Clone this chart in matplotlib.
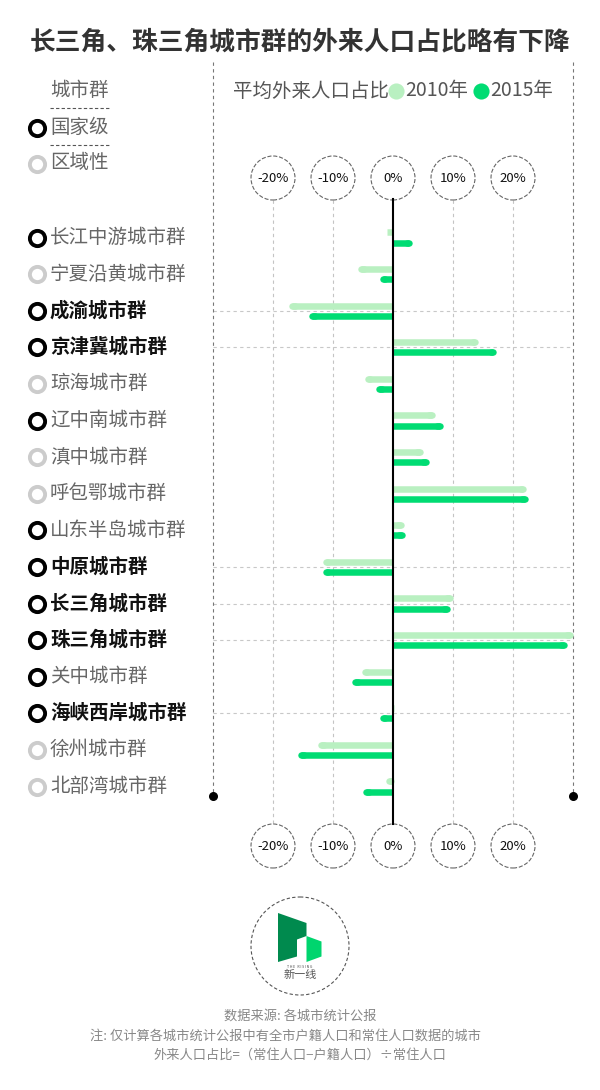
import matplotlib
matplotlib.use('Agg')
import matplotlib.pyplot as plt
import matplotlib.transforms as mtransforms
from matplotlib.patches import Circle, Polygon
import numpy as np

plt.rcParams['font.family'] = ['Noto Sans CJK SC', 'DejaVu Sans']

# data
groups = ['长江中游城市群', '宁夏沿黄城市群', '成渝城市群', '京津冀城市群', '琼海城市群',
          '辽中南城市群', '滇中城市群', '呼包鄂城市群', '山东半岛城市群', '中原城市群',
          '长三角城市群', '珠三角城市群', '关中城市群', '海峡西岸城市群', '徐州城市群',
          '北部湾城市群']
levels = ['国家级', '区域性', '国家级', '国家级', '区域性', '国家级', '区域性', '区域性',
          '国家级', '国家级', '国家级', '国家级', '国家级', '国家级', '区域性', '区域性']
highlight = [0, 0, 1, 1, 0, 0, 0, 0, 0, 1, 1, 1, 0, 1, 0, 0]
share_2010 = [-1.0, -5.8, -17.3, 14.2, -4.7, 7.0, 5.0, 22.2, 1.8, -11.7,
              10.0, 30.0, -5.2, 0.2, -12.5, -1.2]
share_2015 = [3.2, -2.2, -14.0, 17.2, -2.8, 8.3, 6.0, 22.5, 2.0, -11.7,
              9.5, 29.0, -6.8, -2.2, -15.8, -5.0]
ticks = [-20, -10, 0, 10, 20]
tick_labels = ['-20%', '-10%', '0%', '10%', '20%']

LIGHT = '#b9f0c1'
DARK = '#00dc73'
GRAY_RING = '#cccccc'

W, H = 600, 1090
row_y0, row_step = 237.5, 36.6

def py(p):
    # pixel row -> row units of the data axes
    return (p - row_y0) / row_step

fig = plt.figure(figsize=(W / 100, H / 100), dpi=100)
bg = fig.add_axes([0, 0, 1, 1])
bg.set_xlim(0, W)
bg.set_ylim(H, 0)
bg.axis('off')

ax = fig.add_axes([213 / W, 0, 360 / W, 1])
ax.set_xlim(-30, 30)
ax.set_ylim(py(H), py(0))
ax.axis('off')
ax.patch.set_alpha(0)

px_per_pct = 360 / 60.0
bar_px = 6.5
bar_lw = bar_px * 0.72
cap = bar_px / 2 / px_per_pct

rows = np.arange(len(groups))

# grid
for t in ticks:
    if t == 0:
        ax.plot([0, 0], [py(199), py(824)], color='black', lw=1.5, zorder=5)
    else:
        ax.plot([t, t], [py(200), py(824)], color='#c4c4c4', lw=0.8, ls=(0, (3, 3)), zorder=1)
for i in rows:
    if highlight[i]:
        ax.plot([-30, 30], [i, i], color='#c8c8c8', lw=0.8, ls=(0, (3, 3)), zorder=1)
for x in [-30, 30]:
    ax.plot([x, x], [py(62), py(796)], color='#777777', lw=0.8, ls=(0, (3, 3)), zorder=1, clip_on=False)
    ax.scatter([x], [py(796)], s=30, color='black', zorder=6, clip_on=False)

# bars: flat at zero, rounded at the outer end
for vals, off, col in [(share_2010, -0.137, LIGHT), (share_2015, 0.137, DARK)]:
    for i, v in enumerate(vals):
        y = i + off
        sgn = 1 if v >= 0 else -1
        if abs(v) < 2 * cap:
            ax.plot([0, v], [y, y], color=col, lw=bar_lw, solid_capstyle='butt',
                    zorder=3, clip_on=False)
            continue
        end = v - sgn * cap
        ax.plot([0, end], [y, y], color=col, lw=bar_lw, solid_capstyle='butt', zorder=3,
                clip_on=False)
        ax.plot([end - sgn * 0.4, end], [y, y], color=col, lw=bar_lw, solid_capstyle='round',
                zorder=3, clip_on=False)

# tick circles
for yc in [py(178), py(846)]:
    ax.scatter(ticks, [yc] * len(ticks), s=(44 * 0.72) ** 2, facecolor='white',
               edgecolor='#666666', linewidths=0.8, linestyle='--', zorder=4, clip_on=False)
    for t, lab in zip(ticks, tick_labels):
        ax.text(t, yc, lab, ha='center', va='center', fontsize=9.5, color='#111111',
                zorder=7, clip_on=False)

# row labels
tr = mtransforms.blended_transform_factory(bg.transData, ax.transData)
for i, g in enumerate(groups):
    ring = 'black' if levels[i] == '国家级' else GRAY_RING
    ax.scatter([36.5], [i], s=120, facecolor='white', edgecolor=ring, linewidths=2.8,
               transform=tr, zorder=6, clip_on=False)
    if highlight[i]:
        bg.text(50, i, g, transform=tr, ha='left', va='center', fontsize=14,
                fontweight='bold', color='#111111')
    else:
        bg.text(50, i, g, transform=tr, ha='left', va='center', fontsize=14, color='#666666')

# title
bg.text(300, 42, '长三角、珠三角城市群的外来人口占比略有下降', ha='center', va='center',
        fontsize=18.5, fontweight='bold', color='#333333')

# left legend
bg.text(50, 91, '城市群', ha='left', va='center', fontsize=14, color='#666666')
bg.plot([50, 110], [108, 108], color='#555555', lw=0.8, ls=(0, (3, 2)))
bg.scatter([36.5], [128], s=120, facecolor='white', edgecolor='black', linewidths=2.8, zorder=5)
bg.text(50, 127, '国家级', ha='left', va='center', fontsize=14, color='#666666')
bg.plot([50, 110], [145, 145], color='#555555', lw=0.8, ls=(0, (3, 2)))
bg.scatter([36.5], [164], s=120, facecolor='white', edgecolor=GRAY_RING, linewidths=2.8, zorder=5)
bg.text(50, 163, '区域性', ha='left', va='center', fontsize=14, color='#666666')

# header legend
bg.text(233, 91, '平均外来人口占比', ha='left', va='center', fontsize=14, color='#555555')
bg.scatter([396], [90.5], s=135, color=LIGHT, linewidths=0, zorder=5)
bg.text(405, 91, '2010年', ha='left', va='center', fontsize=14, color='#555555')
bg.scatter([481], [90.5], s=135, color=DARK, linewidths=0, zorder=5)
bg.text(490, 91, '2015年', ha='left', va='center', fontsize=14, color='#555555')

# logo
bg.add_patch(Circle((300, 946), 49, fill=False, edgecolor='#555555', lw=0.8, ls=(0, (3, 2))))
bg.add_patch(Polygon([(278, 913), (306.5, 923), (306.5, 936), (297, 939.5), (297, 956.5), (278, 962)],
                     closed=True, color='#008a4e', lw=0))
bg.add_patch(Polygon([(306.5, 936), (321.5, 941.5), (321.5, 956.5), (306.5, 962)],
                     closed=True, color='#00d56e', lw=0))
bg.text(300, 966.5, 'T H E   R I S I N G', ha='center', va='center', fontsize=2.5, color='#444444')
bg.text(300, 975, '新一线', ha='center', va='center', fontsize=8, color='#555555')

# footer
bg.text(300, 1016, '数据来源: 各城市统计公报', ha='center', va='center', fontsize=9.5, color='#888888')
bg.text(286, 1036, '注: 仅计算各城市统计公报中有全市户籍人口和常住人口数据的城市', ha='center',
        va='center', fontsize=9.5, color='#888888')
bg.text(300, 1055, '外来人口占比=（常住人口−户籍人口）÷常住人口', ha='center', va='center',
        fontsize=9.5, color='#888888')

fig.savefig('out.png', dpi=100, facecolor='white')
